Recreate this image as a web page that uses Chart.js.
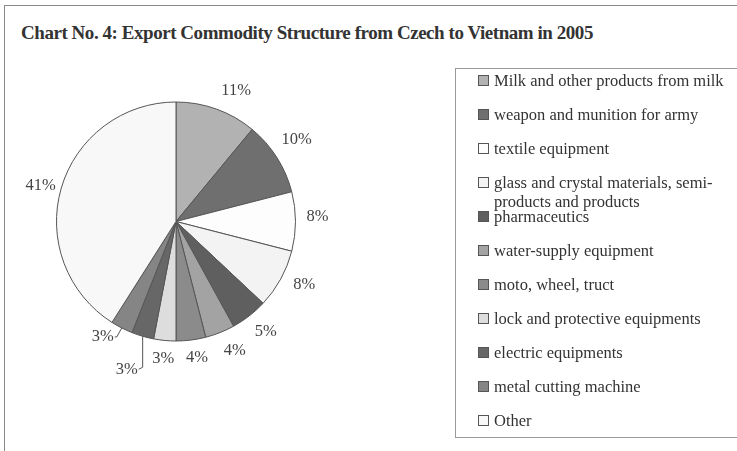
<!DOCTYPE html>
<html lang="en">
<head>
  <meta charset="UTF-8">
  <title>Export Commodity Structure from Czech to Vietnam in 2005</title>
  <script src="https://cdn.jsdelivr.net/npm/chart.js"></script>
  <style>
    html, body { margin: 0; padding: 0; background: #fff; }
    body { width: 737px; height: 451px; position: relative; overflow: hidden; font-family: "Liberation Serif", "DejaVu Serif", serif; color: #333; }
    #frame { position: absolute; left: 4px; top: 5px; width: 800px; height: 500px; border-left: 1px solid #8a8a8a; border-top: 1px solid #8a8a8a; }
    #title { position: absolute; left: 21px; top: 22px; font-size: 19px; line-height: 22px; font-weight: bold; letter-spacing: -0.45px; color: #333; white-space: nowrap; }
    #chart-wrap { position: absolute; left: 0; top: 0; width: 737px; height: 451px; }
    #legend { position: absolute; left: 455px; top: 68px; width: 320px; height: 368px; border: 1px solid #9a9a9a; }
    .item { position: absolute; left: 22px; width: 262px; font-size: 16.5px; line-height: 19px; color: #333; }
    .box { position: absolute; left: 0; top: 4px; width: 9px; height: 9px; border: 1px solid #555; }
    .txt { margin-left: 16px; }
  </style>
</head>
<body>
  <div id="frame"></div>
  <div id="title">Chart No. 4: Export Commodity Structure from Czech to Vietnam in 2005</div>
  <div id="chart-wrap"><canvas id="pie"></canvas></div>
  <div id="legend"></div>

  <script>
    // Data (percent shares)
    const categories = [
      "Milk and other products from milk",
      "weapon and munition for army",
      "textile equipment",
      "glass and crystal materials, semi-products and products",
      "pharmaceutics",
      "water-supply equipment",
      "moto, wheel, truct",
      "lock and protective equipments",
      "electric equipments",
      "metal cutting machine",
      "Other"
    ];
    const shares = [11, 10, 8, 8, 5, 4, 4, 3, 3, 3, 41];
    const sliceColors = ["#b2b2b2", "#6f6f6f", "#fdfdfd", "#f3f3f3", "#5f5f5f", "#a3a3a3",
                         "#8b8b8b", "#dddddd", "#676767", "#858585", "#f8f8f8"];

    // legend: fixed 34px slots, like the original
    const legendEl = document.getElementById("legend");
    categories.forEach((name, i) => {
      const item = document.createElement("div");
      item.className = "item";
      item.style.top = (2 + i * 34) + "px";
      const box = document.createElement("span");
      box.className = "box";
      box.style.background = sliceColors[i];
      const txt = document.createElement("div");
      txt.className = "txt";
      txt.textContent = name;
      item.appendChild(box);
      item.appendChild(txt);
      legendEl.appendChild(item);
    });

    // percent labels outside the slices, two of them with leader lines
    const nudges = [[13, 0], [-1, -5], [3, -5], [5, -5], [4, 0], [8, 1], [4, 1], [0, 2], [0, 0], [0, 0], [3, 4]];
    const leaders = { 8: { elbow: 31, dx: -5, dy: 33 }, 9: { elbow: 9, dx: -8, dy: 9 } };
    const pctLabels = {
      id: "pctLabels",
      afterDatasetsDraw(chart) {
        const ctx = chart.ctx;
        const meta = chart.getDatasetMeta(0);
        ctx.save();
        ctx.font = "16.5px 'Liberation Serif', serif";
        ctx.fillStyle = "#444";
        ctx.strokeStyle = "#555";
        ctx.lineWidth = 1;
        ctx.textBaseline = "middle";
        meta.data.forEach((arc, i) => {
          const p = arc.getProps(["x", "y", "startAngle", "endAngle", "outerRadius"], true);
          const mid = (p.startAngle + p.endAngle) / 2;
          const cos = Math.cos(mid), sin = Math.sin(mid);
          const text = shares[i] + "%";
          const w = ctx.measureText(text).width;
          const lead = leaders[i];
          if (lead) {
            const ax = p.x + p.outerRadius * cos, ay = p.y + p.outerRadius * sin;
            ctx.beginPath();
            ctx.moveTo(ax, ay);
            ctx.lineTo(ax + (i === 8 ? 0 : lead.dx + 3), ay + lead.elbow);
            ctx.lineTo(ax + lead.dx + 1, ay + lead.dy);
            ctx.stroke();
            ctx.textAlign = "right";
            ctx.fillText(text, ax + lead.dx, ay + lead.dy);
          } else {
            const d = p.outerRadius + 8 + (w / 2) * Math.abs(cos) + 7 * Math.abs(sin);
            ctx.textAlign = "center";
            ctx.fillText(text, p.x + d * cos + nudges[i][0], p.y + d * sin + nudges[i][1]);
          }
        });
        ctx.restore();
      }
    };

    new Chart(document.getElementById("pie"), {
      type: "pie",
      data: {
        labels: categories,
        datasets: [{
          data: shares,
          backgroundColor: sliceColors,
          borderColor: "#555",
          borderWidth: 1
        }]
      },
      options: {
        responsive: true,
        maintainAspectRatio: false,
        animation: false,
        layout: { padding: { left: 56, right: 441, top: 101, bottom: 109 } },
        plugins: { legend: { display: false }, tooltip: { enabled: false } }
      },
      plugins: [pctLabels]
    });
  </script>
</body>
</html>
